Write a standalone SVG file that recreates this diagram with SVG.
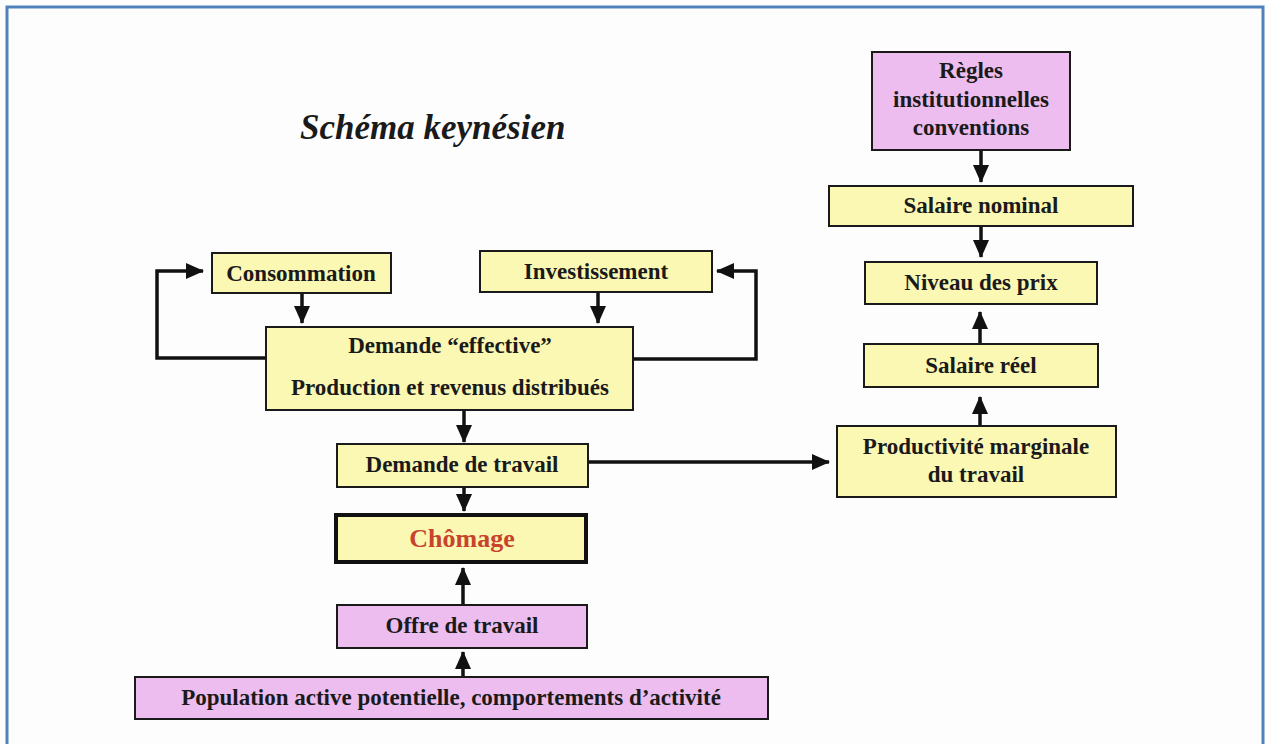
<svg xmlns="http://www.w3.org/2000/svg" width="1266" height="744" viewBox="0 0 1266 744">
<style>
.y{fill:#fbf8b4;stroke:#1a1a1a;stroke-width:2}
.p{fill:#ecbdee;stroke:#1a1a1a;stroke-width:2}
.t{font-family:"Liberation Serif","Times New Roman",serif;font-weight:bold;font-size:23px;fill:#1a1a1a;text-anchor:middle}
.c{stroke:#111;stroke-width:3.5;fill:none}
</style>
<defs>
<marker id="ah" viewBox="0 0 18 16" refX="17" refY="8" markerWidth="18" markerHeight="16" markerUnits="userSpaceOnUse" orient="auto">
<path d="M0,0 L18,8 L0,16 z" fill="#111"/>
</marker>
</defs>
<rect x="0" y="0" width="1266" height="744" fill="#fdfdfd"/>
<rect x="7" y="7" width="1256" height="760" fill="none" stroke="#4f81bd" stroke-width="3"/>
<text x="300" y="139" font-family="Liberation Serif,'Times New Roman',serif" font-weight="bold" font-style="italic" font-size="35" fill="#1a1a1a">Schéma keynésien</text>

<g id="connectors">
<path class="c" d="M981,150 V182" marker-end="url(#ah)"/>
<path class="c" d="M981,226 V257" marker-end="url(#ah)"/>
<path class="c" d="M980,344 V312" marker-end="url(#ah)"/>
<path class="c" d="M980,426 V397" marker-end="url(#ah)"/>
<path class="c" d="M302,293 V323" marker-end="url(#ah)"/>
<path class="c" d="M598,292 V323" marker-end="url(#ah)"/>
<path class="c" d="M266,358 H157 V271 H203" marker-end="url(#ah)"/>
<path class="c" d="M633,359 H756 V271 H717" marker-end="url(#ah)"/>
<path class="c" d="M464,410 V442" marker-end="url(#ah)"/>
<path class="c" d="M464,487 V511" marker-end="url(#ah)"/>
<path class="c" d="M463,605 V568" marker-end="url(#ah)"/>
<path class="c" d="M463,677 V652" marker-end="url(#ah)"/>
<path class="c" d="M588,462 H829" marker-end="url(#ah)"/>
</g>

<g id="regles"><rect class="p" x="872" y="52" width="198" height="98"/>
<text class="t" x="971" y="78">Règles</text><text class="t" x="971" y="107">institutionnelles</text><text class="t" x="971" y="135">conventions</text></g>
<g id="salaire-nominal"><rect class="y" x="829" y="186" width="304" height="40"/><text class="t" x="981" y="213">Salaire nominal</text></g>
<g id="niveau-prix"><rect class="y" x="865" y="262" width="232" height="42"/><text class="t" x="981" y="290">Niveau des prix</text></g>
<g id="salaire-reel"><rect class="y" x="864" y="344" width="234" height="43"/><text class="t" x="981" y="373">Salaire réel</text></g>
<g id="productivite"><rect class="y" x="837" y="426" width="279" height="71"/>
<text class="t" x="976" y="454">Productivité marginale</text><text class="t" x="976" y="482">du travail</text></g>
<g id="consommation"><rect class="y" x="212" y="253" width="179" height="40"/><text class="t" x="301" y="281">Consommation</text></g>
<g id="investissement"><rect class="y" x="480" y="251" width="232" height="41"/><text class="t" x="596" y="279">Investissement</text></g>
<g id="demande-effective"><rect class="y" x="266" y="327" width="367" height="83"/>
<text class="t" x="450" y="353">Demande “effective”</text><text class="t" x="450" y="395">Production et revenus distribués</text></g>
<g id="demande-travail"><rect class="y" x="337" y="444" width="251" height="43"/><text class="t" x="462" y="472">Demande de travail</text></g>
<g id="chomage"><rect x="336" y="515" width="250" height="47" fill="#fbf8b4" stroke="#111" stroke-width="4"/>
<text class="t" x="462" y="547" style="fill:#c8432c;font-size:26px">Chômage</text></g>
<g id="offre-travail"><rect class="p" x="337" y="605" width="250" height="43"/><text class="t" x="462" y="633">Offre de travail</text></g>
<g id="population"><rect class="p" x="135" y="677" width="633" height="42"/><text class="t" x="451" y="705">Population active potentielle, comportements d’activité</text></g>
</svg>
